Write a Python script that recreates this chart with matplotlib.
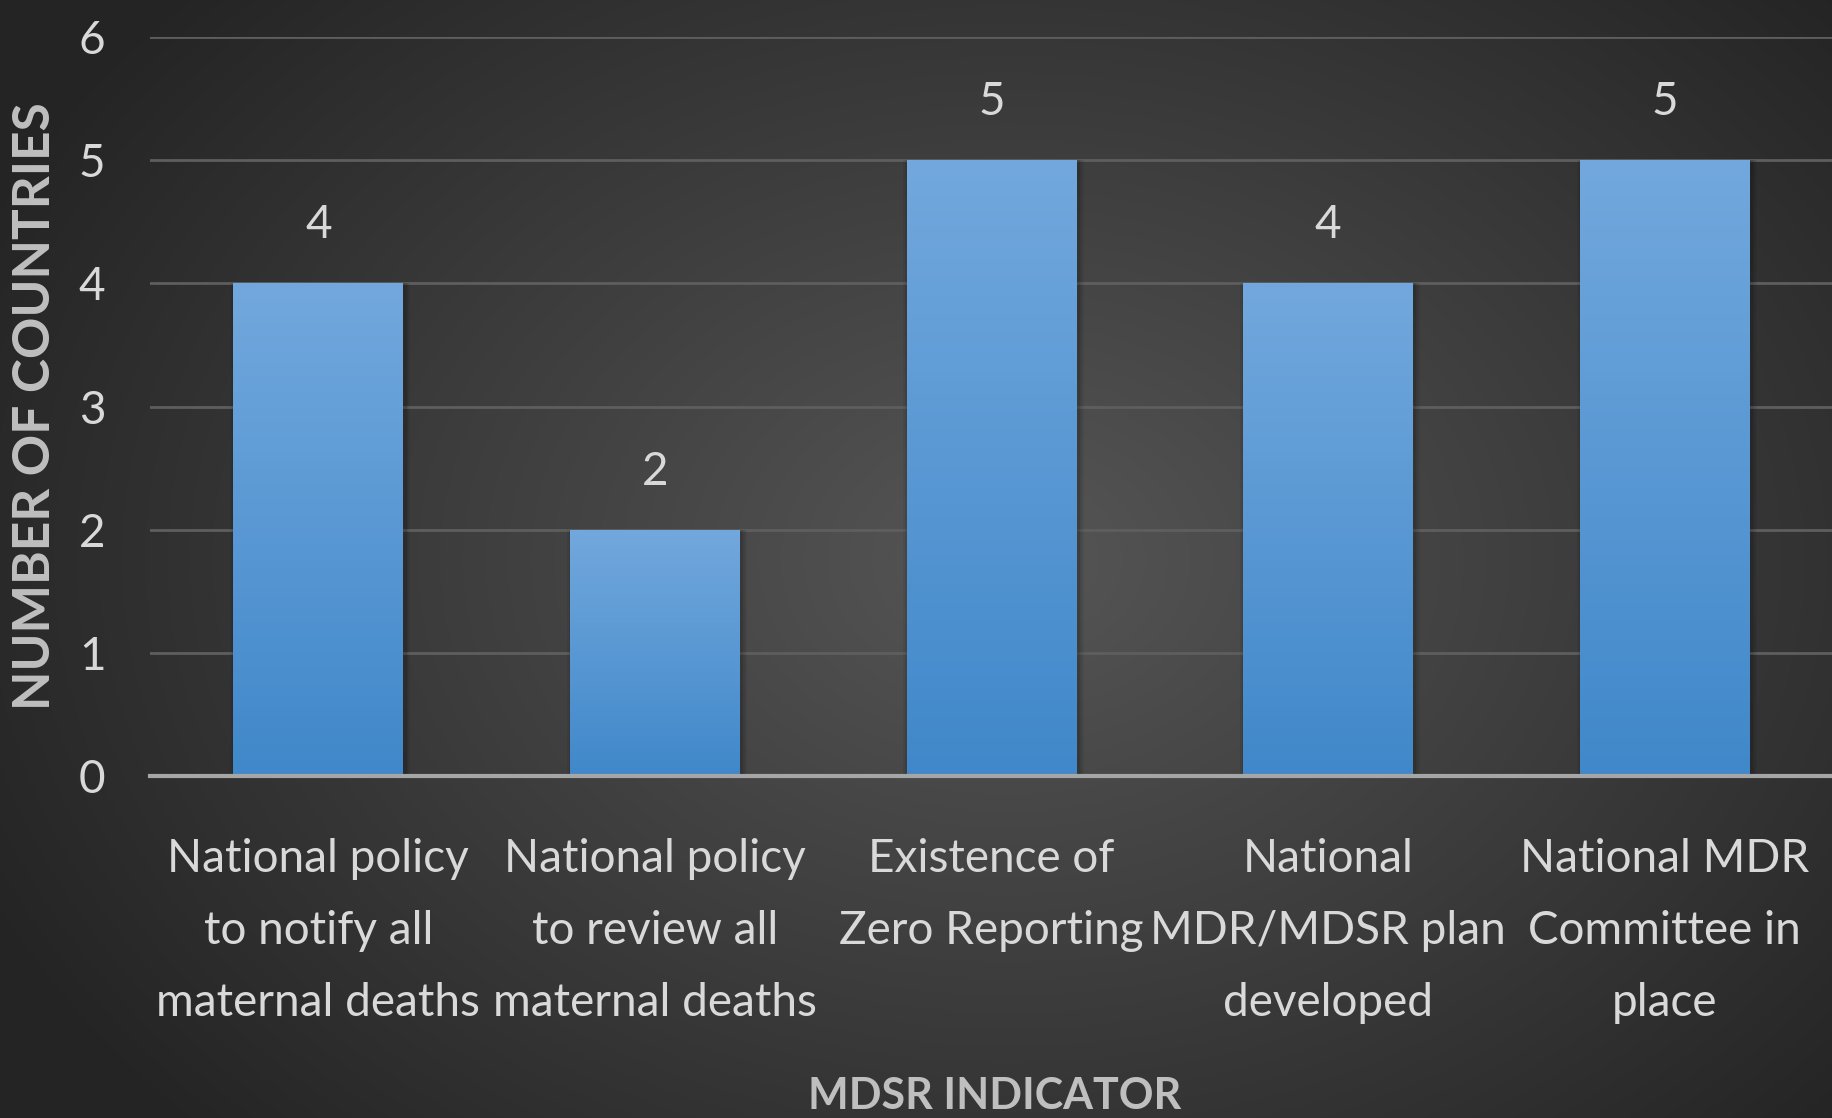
import numpy as np
import matplotlib
matplotlib.use("Agg")
import matplotlib.pyplot as plt
from matplotlib import font_manager as fm

categories = ["National policy\nto notify all\nmaternal deaths",
              "National policy\nto review all\nmaternal deaths",
              "Existence of\nZero Reporting",
              "National\nMDR/MDSR plan\ndeveloped",
              "National MDR\nCommittee in\nplace"]
values = [4, 2, 5, 4, 5]
yticks = [0, 1, 2, 3, 4, 5, 6]
ylabel = "NUMBER OF COUNTRIES"
xlabel = "MDSR INDICATOR"

names = {f.name for f in fm.fontManager.ttflist}
FONT = "Liberation Sans Narrow" if "Liberation Sans Narrow" in names else "Lato"
plt.rcParams['font.family'] = [FONT, 'DejaVu Sans']

W, H = 1833, 1118
fig = plt.figure(figsize=(W / 100, H / 100), dpi=100)

# radial gradient background
bg = fig.add_axes([0, 0, 1, 1], zorder=-10)
yy, xx = np.mgrid[0:H, 0:W]
cx, cy = W * 0.55, H * 0.5
r = np.sqrt(((xx - cx) / (W * 0.62)) ** 2 + ((yy - cy) / (H * 0.75)) ** 2)
r = np.clip(r, 0, 1)
inner = np.array([0x56, 0x56, 0x56]) / 255
outer = np.array([0x24, 0x24, 0x24]) / 255
img = inner[None, None, :] * (1 - r[..., None]) + outer[None, None, :] * r[..., None]
bg.imshow(img, aspect='auto', extent=[0, 1, 0, 1], origin='upper')
bg.set_axis_off()

ax = fig.add_axes([150 / W, 1 - 776 / H, 1 - 150 / W, (776 - 37) / H])
ax.patch.set_alpha(0)
x = np.arange(len(categories))
bars = ax.bar(x, values, width=0.505, color="#5b9bd5", zorder=3)

# vertical gradient in bars
grad = np.linspace(0, 1, 256)[:, None]
top = np.array([0x72, 0xa8, 0xdd]) / 255
bot = np.array([0x40, 0x88, 0xca]) / 255
gimg = top[None, None, :] * (1 - grad[..., None]) + bot[None, None, :] * grad[..., None]
for b in bars:
    x0, y0 = b.get_x(), b.get_y()
    w, h = b.get_width(), b.get_height()
    # soft shadow
    for k, a in [(0.03, 0.06), (0.018, 0.08), (0.008, 0.10)]:
        ax.bar(x0 + w / 2 + 0.006, h, width=w + k, color="black", alpha=a, zorder=2)
    im = ax.imshow(gimg, extent=[x0, x0 + w, y0, y0 + h], aspect='auto', zorder=4, origin='upper')
    im.set_clip_path(b)

for xi, v in zip(x, values):
    ax.text(xi, v + 0.30, str(v), ha='center', va='bottom', color="#d9d9d9", fontsize=33, zorder=5)

ax.set_xlim(-0.5, len(categories) - 0.5)
ax.set_ylim(0, 6)
ax.set_yticks(yticks)
ax.set_yticklabels([str(t) for t in yticks])
ax.set_xticks(x)
ax.set_xticklabels(categories, linespacing=1.88)
ax.tick_params(axis='both', length=0, colors="#d9d9d9", labelsize=33)
ax.tick_params(axis='y', pad=32)
ax.tick_params(axis='x', pad=45)
ax.grid(axis='y', color="#5e5e5e", linewidth=2, zorder=0)
for s in ['top', 'right', 'left']:
    ax.spines[s].set_visible(False)
ax.spines['bottom'].set_color("#a6a6a6")
ax.spines['bottom'].set_linewidth(3)
ax.spines['bottom'].set_zorder(6)

fig.text(36 / W, 1 - 406 / H, ylabel, rotation=90, ha='center', va='center',
         color="#bfbfbf", fontsize=37, fontweight='bold')
fig.text(0.5425, 1 - 1096 / H, xlabel, ha='center', va='center',
         color="#bfbfbf", fontsize=31, fontweight='bold')

fig.savefig("out.png", dpi=100)
